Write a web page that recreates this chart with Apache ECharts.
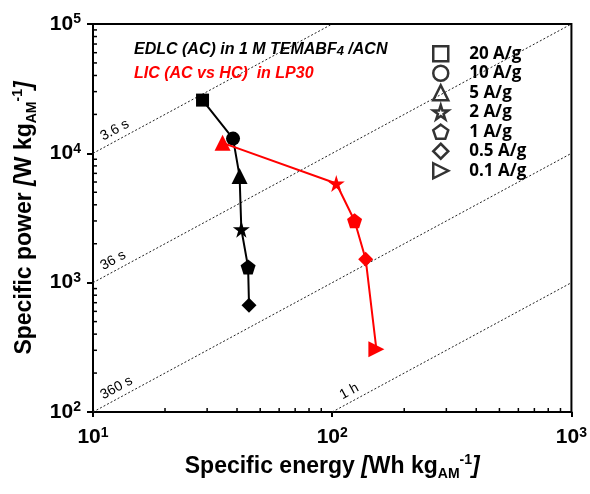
<!DOCTYPE html>
<html>
<head>
<meta charset="utf-8">
<script src="https://cdn.jsdelivr.net/npm/echarts@6/dist/echarts.min.js"></script>
<style>
html, body { margin: 0; padding: 0; background: #fff; }
#main { width: 590px; height: 494px; }
</style>
</head>
<body>
<div id="main"></div>
<script>
// EDLC (AC) in 1 M TEMABF4 / ACN
var edlcRates = ['20 A/g', '10 A/g', '5 A/g', '2 A/g', '1 A/g', '0.5 A/g'];
var edlcEnergy = [28.7, 38.5, 41.0, 41.7, 44.5, 44.9];
var edlcPower = [25800, 13000, 6670, 2590, 1320, 668];

// LIC (AC vs HC) in LP30
var licRates = ['5 A/g', '2 A/g', '1 A/g', '0.5 A/g', '0.1 A/g'];
var licEnergy = [34.8, 104, 124, 138, 153];
var licPower = [12050, 5850, 3010, 1518, 305];

var legendRates = ['20 A/g', '10 A/g', '5 A/g', '2 A/g', '1 A/g', '0.5 A/g', '0.1 A/g'];

// constant discharge time lines (t = E / P)
var timeLabels = ['3.6 s', '36 s', '360 s', '1 h'];
var timeSeconds = [3.6, 36, 360, 3600];

var xMin = 10, xMax = 1000, yMin = 100, yMax = 100000;

var FONT = 'Liberation Sans, Arial, sans-serif';
var STAR = 'path://M50,0 L61,35 L98,35 L68,57 L79,91 L50,70 L21,91 L32,57 L2,35 L39,35 Z';
var PENT = 'path://M50,0 L98,35 L79,91 L21,91 L2,35 Z';
var RTRI = 'path://M0,0 L100,50 L0,100 Z';
var symbolOf = {
    '20 A/g': 'rect', '10 A/g': 'circle', '5 A/g': 'triangle', '2 A/g': STAR,
    '1 A/g': PENT, '0.5 A/g': 'diamond', '0.1 A/g': RTRI
};
var sizeOf = {
    '20 A/g': 13, '10 A/g': 14, '5 A/g': 16, '2 A/g': 17,
    '1 A/g': 15, '0.5 A/g': 15, '0.1 A/g': 16
};

function points(E, P, rates) {
    return E.map(function (e, i) {
        return { value: [e, P[i]], symbol: symbolOf[rates[i]], symbolSize: sizeOf[rates[i]] };
    });
}

var timeLines = timeSeconds.map(function (t, i) {
    var e0 = Math.max(xMin, yMin * t / 3600);
    var e1 = Math.min(xMax, yMax * t / 3600);
    return [
        { coord: [e0, e0 * 3600 / t], name: timeLabels[i] },
        { coord: [e1, e1 * 3600 / t] }
    ];
});

var supRich = {
    b: { fontSize: 21, fontWeight: 'bold', fontFamily: FONT, color: '#000', lineHeight: 23 },
    s: { fontSize: 14, fontWeight: 'bold', fontFamily: FONT, color: '#000', verticalAlign: 'top', lineHeight: 14 }
};
function powLabel(v) {
    return '{b|10}{s|' + Math.round(Math.log10(v)) + '}';
}
var nameRich = {
    n: { fontSize: 23, fontWeight: 'bold', fontFamily: FONT, color: '#000', lineHeight: 28 },
    i: { fontSize: 23, fontWeight: 'bold', fontStyle: 'italic', fontFamily: FONT, color: '#000', lineHeight: 28 },
    sub: { fontSize: 14, fontWeight: 'bold', fontFamily: FONT, color: '#000', verticalAlign: 'bottom', lineHeight: 14 },
    sup: { fontSize: 14, fontWeight: 'bold', fontFamily: FONT, color: '#000', verticalAlign: 'top', lineHeight: 14 }
};

var chart = echarts.init(document.getElementById('main'));

var series = [
    {
        type: 'line',
        data: [],
        silent: true,
        markLine: {
            silent: true,
            symbol: ['none', 'none'],
            animation: false,
            lineStyle: { color: '#222', width: 1, type: [2, 2] },
            label: {
                show: true, position: 'insideStartTop', formatter: '{b}',
                fontFamily: FONT, fontSize: 14, color: '#000', distance: [15, 3]
            },
            emphasis: { disabled: true },
            data: timeLines
        }
    },
    {
        type: 'line',
        data: points(edlcEnergy, edlcPower, edlcRates),
        lineStyle: { color: '#000', width: 2 },
        itemStyle: { color: '#000' },
        z: 5
    },
    {
        type: 'line',
        data: points(licEnergy, licPower, licRates),
        lineStyle: { color: '#ff0000', width: 2 },
        itemStyle: { color: '#ff0000' },
        z: 6
    }
];
legendRates.forEach(function (r) {
    series.push({
        type: 'scatter', name: r, data: [], symbol: symbolOf[r],
        itemStyle: { color: '#fff', borderColor: '#000', borderWidth: 2.5 }
    });
});

var option = {
    animation: false,
    backgroundColor: '#fff',
    grid: {
        left: 93, top: 24, right: 18, bottom: 82,
        show: true, borderColor: '#000', borderWidth: 2, backgroundColor: 'transparent'
    },
    title: [
        {
            left: 129, top: 37,
            text: 'EDLC (AC) in 1 M TEMABF{sub|4} /ACN',
            textStyle: {
                fontSize: 16, fontWeight: 'bold', fontStyle: 'italic', fontFamily: FONT, color: '#000',
                rich: { sub: { fontSize: 13, fontWeight: 'bold', fontStyle: 'italic', fontFamily: FONT, color: '#000', verticalAlign: 'bottom', lineHeight: 13 } }
            }
        },
        {
            left: 129, top: 61,
            text: 'LIC (AC vs HC)  in LP30',
            textStyle: { fontSize: 16, fontWeight: 'bold', fontStyle: 'italic', fontFamily: FONT, color: '#ff0000' }
        }
    ],
    legend: {
        orient: 'vertical', left: 427, top: 39,
        itemWidth: 15, itemHeight: 15, itemGap: 0,
        selectedMode: false,
        data: legendRates,
        itemStyle: { color: '#fff', borderColor: '#000', borderWidth: 2.5 },
        textStyle: { fontFamily: 'Open Sans', fontWeight: 'bold', fontSize: 17, color: '#000', lineHeight: 19.5, padding: [0, 0, 0, 16] }
    },
    xAxis: {
        type: 'log', logBase: 10, min: xMin, max: xMax,
        axisLine: { onZero: false, lineStyle: { color: '#000', width: 2 } },
        axisTick: { length: 5, lineStyle: { color: '#000', width: 2 } },
        splitLine: { show: false },
        axisLabel: { margin: 14, formatter: powLabel, rich: supRich },
        name: '{n|Specific energy }{i|[}{n|Wh kg}{sub|AM}{sup|-1}{i|]}',
        nameLocation: 'middle', nameGap: 35,
        nameTextStyle: { rich: nameRich }
    },
    yAxis: {
        type: 'log', logBase: 10, min: yMin, max: yMax,
        axisLine: { onZero: false, lineStyle: { color: '#000', width: 2 } },
        axisTick: { length: 6, lineStyle: { color: '#000', width: 2 } },
        splitLine: { show: false },
        axisLabel: { margin: 12, formatter: powLabel, rich: supRich },
        name: '{n|Specific power }{i|[}{n|W kg}{sub|AM}{sup|-1}{i|]}',
        nameLocation: 'middle', nameGap: 54,
        nameTextStyle: { rich: nameRich }
    },
    series: series
};
chart.setOption(option);

// log minor ticks (2..9 per decade), drawn inside the frame
function minorTickGraphics() {
    var g = [];
    var x0 = chart.convertToPixel({ xAxisIndex: 0 }, xMin);
    var y0 = chart.convertToPixel({ yAxisIndex: 0 }, yMin);
    var style = { stroke: '#000', lineWidth: 1.5 };
    for (var d = xMin; d < xMax; d *= 10) {
        for (var k = 2; k <= 9; k++) {
            var px = chart.convertToPixel({ xAxisIndex: 0 }, k * d);
            g.push({ type: 'line', silent: true, shape: { x1: px, y1: y0, x2: px, y2: y0 - 4 }, style: style });
        }
    }
    for (var e = yMin; e < yMax; e *= 10) {
        for (var j = 2; j <= 9; j++) {
            var py = chart.convertToPixel({ yAxisIndex: 0 }, j * e);
            g.push({ type: 'line', silent: true, shape: { x1: x0, y1: py, x2: x0 + 4, y2: py }, style: style });
        }
    }
    return g;
}
chart.setOption({ graphic: minorTickGraphics() });
</script>
</body>
</html>
